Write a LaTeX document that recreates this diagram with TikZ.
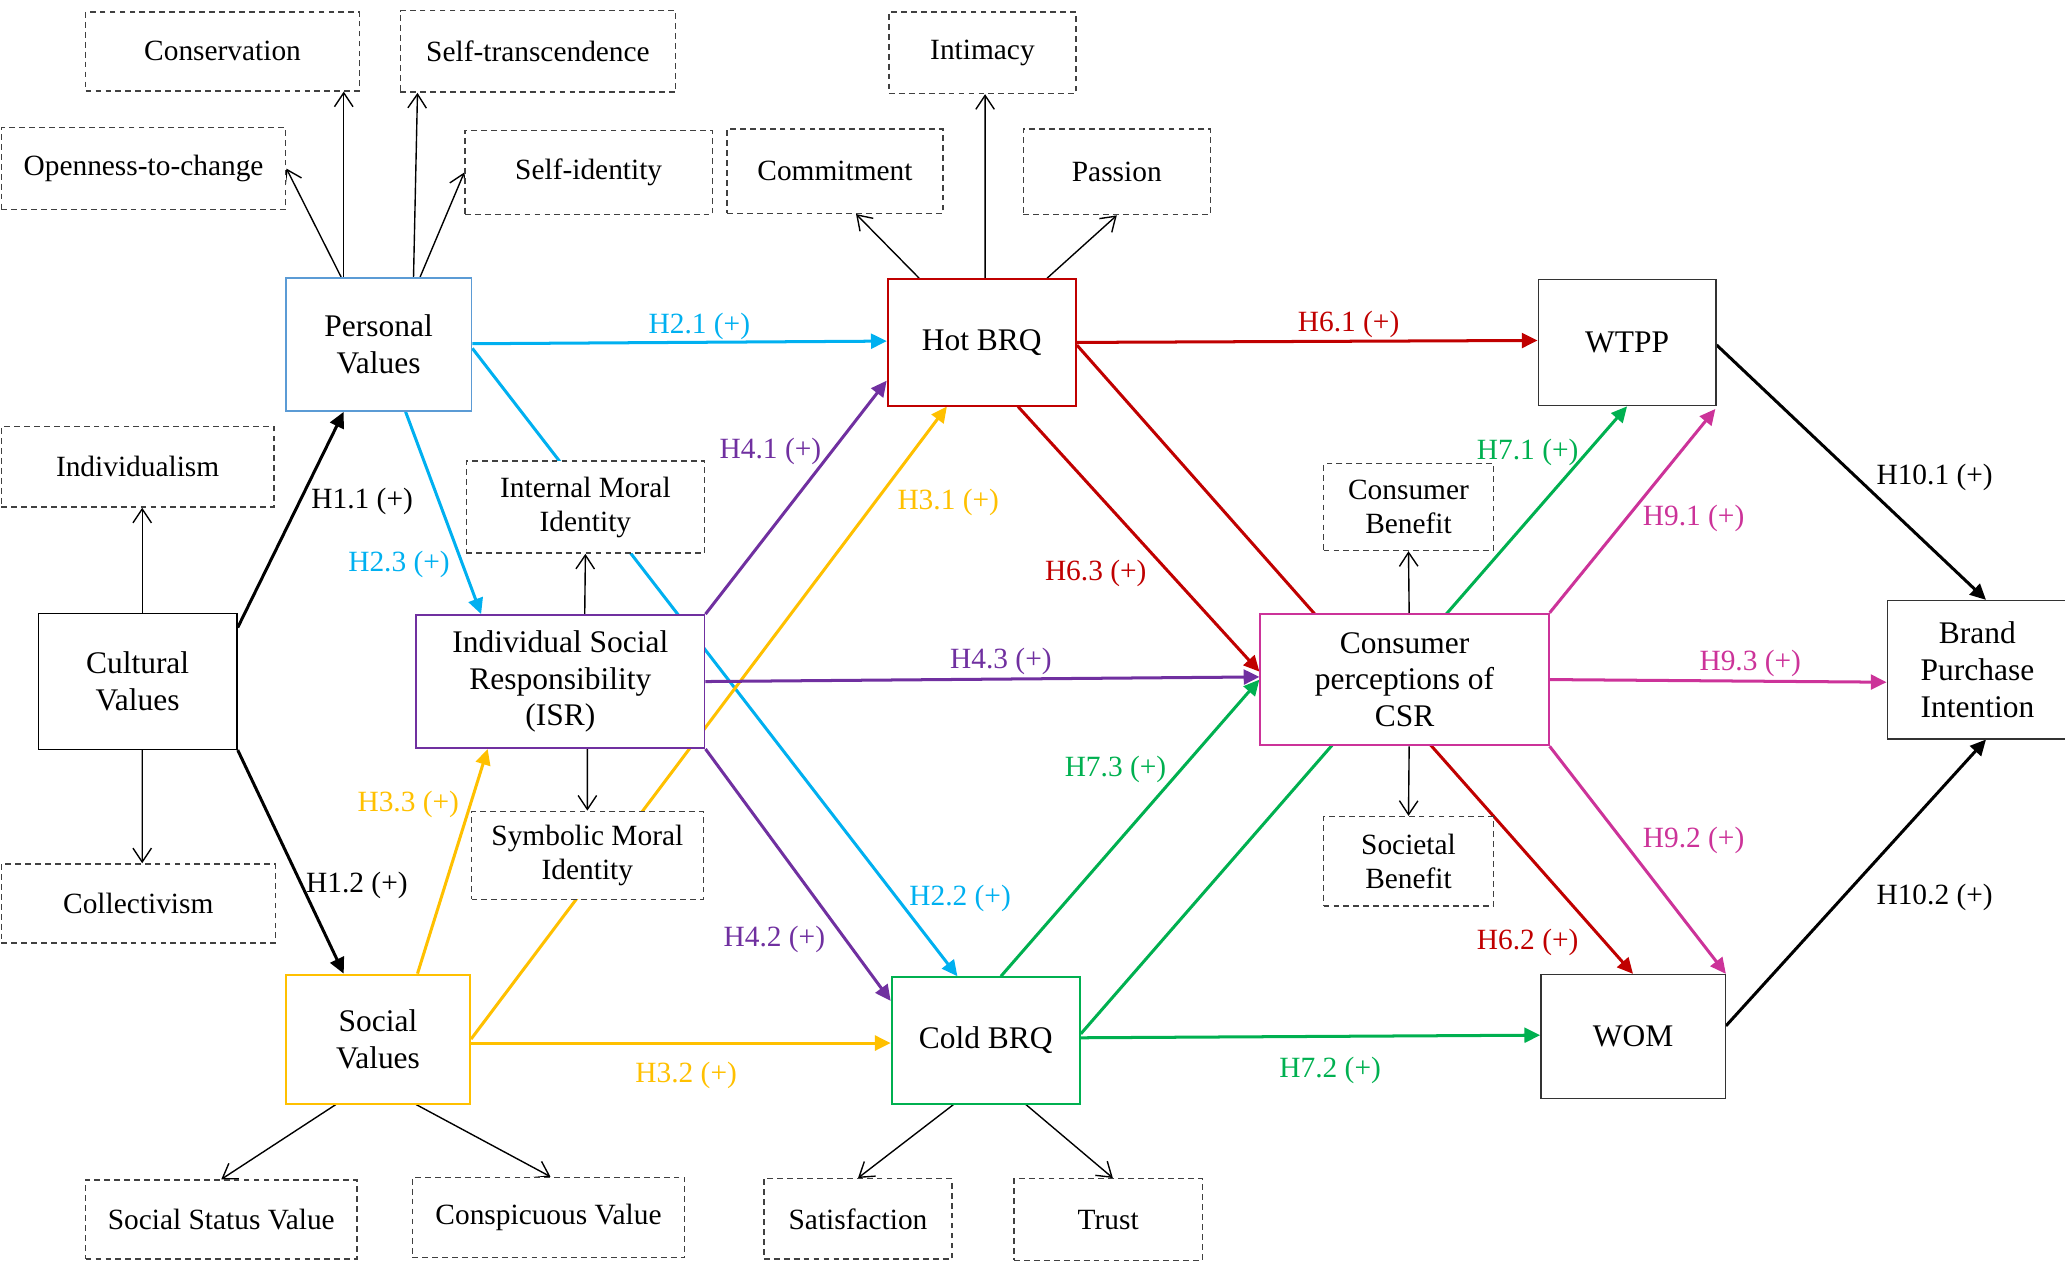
\documentclass[tikz,border=0pt]{standalone}
\usepackage{fontspec}
\setmainfont{Liberation Serif}
\usetikzlibrary{arrows.meta,calc}
\pgfdeclarelayer{bg}
\pgfsetlayers{bg,main}
\definecolor{cblue}{HTML}{00B0F0}
\definecolor{pvblue}{HTML}{5B9BD5}
\definecolor{cyel}{HTML}{FFC000}
\definecolor{cpur}{HTML}{7030A0}
\definecolor{cred}{HTML}{C00000}
\definecolor{cgrn}{HTML}{00B050}
\definecolor{cmag}{HTML}{CC3399}
\newcommand\mainfs{\fontsize{13.6}{15.9}\selectfont}
\newcommand\subfs{\fontsize{12.7}{14.7}\selectfont}
\begin{document}
\begin{tikzpicture}[x=0.02cm,y=-0.02cm,
  mainbox/.style={draw, fill=white, line width=0.8pt, inner sep=0pt, align=center, font=\mainfs},
  subbox/.style={draw=black!75, dash pattern=on 2.5pt off 1.8pt, line width=0.6pt, fill=white, inner sep=0pt, align=center, font=\subfs},
  subarrow/.style={line width=0.6pt, -{Straight Barb[length=6pt,width=8pt]}},
  hyp/.style={line width=1.3pt, -{Triangle[length=6.8pt,width=6.4pt]}},
  lab/.style={font=\subfs, inner sep=0pt, yshift=-0.05cm}]
\useasboundingbox (0,0) rectangle (1568,958);

% main constructs
\node[mainbox, draw=pvblue, minimum width=2.82cm, minimum height=2.02cm] (pv) at (287.5,261.5) {Personal\\Values};
\node[mainbox, draw=black, line width=0.6pt, minimum width=3.02cm, minimum height=2.06cm] (cv) at (104.5,517.5) {Cultural\\Values};
\node[mainbox, draw=cyel, minimum width=2.80cm, minimum height=1.96cm] (sv) at (287,789) {Social\\Values};
\node[mainbox, draw=cpur, minimum width=4.38cm, minimum height=2.02cm] (isr) at (425.5,517.5) {Individual Social\\Responsibility\\(ISR)};
\node[mainbox, draw=cred, minimum width=2.86cm, minimum height=1.92cm] (hot) at (745.5,260) {Hot BRQ};
\node[mainbox, draw=cgrn, minimum width=2.86cm, minimum height=1.92cm] (cold) at (748.5,790) {Cold BRQ};
\node[mainbox, draw=cmag, minimum width=4.38cm, minimum height=2.00cm] (csr) at (1066.5,516) {Consumer\\perceptions of\\CSR};
\node[mainbox, draw=black!80, line width=0.6pt, minimum width=2.70cm, minimum height=1.92cm] (wtpp) at (1235.5,260) {WTPP};
\node[mainbox, draw=black!80, line width=0.6pt, minimum width=2.80cm, minimum height=1.88cm] (wom) at (1240,787) {WOM};
\node[mainbox, draw=black!80, line width=0.6pt, minimum width=2.74cm, minimum height=2.10cm] (bpi) at (1501.5,508.5) {Brand\\Purchase\\Intention};

% dimensions
\node[subbox, minimum width=4.16cm, minimum height=1.20cm] (cons) at (169,39) {Conservation};
\node[subbox, minimum width=4.18cm, minimum height=1.24cm] (st) at (408.5,39) {Self-transcendence};
\node[subbox, minimum width=4.32cm, minimum height=1.24cm] (open) at (109,128) {Openness-to-change};
\node[subbox, minimum width=3.76cm, minimum height=1.28cm] (si) at (447,131) {Self-identity};
\node[subbox, minimum width=2.84cm, minimum height=1.24cm] (int) at (746,40) {Intimacy};
\node[subbox, minimum width=3.28cm, minimum height=1.28cm] (com) at (634,130) {Commitment};
\node[subbox, minimum width=2.84cm, minimum height=1.30cm] (pas) at (848,130.5) {Passion};
\node[subbox, minimum width=4.14cm, minimum height=1.22cm] (ind) at (104.5,354.5) {Individualism};
\node[subbox, minimum width=4.16cm, minimum height=1.20cm] (col) at (105,686) {Collectivism};
\node[subbox, minimum width=3.62cm, minimum height=1.40cm] (imi) at (444.5,385) {Internal Moral\\Identity};
\node[subbox, minimum width=3.52cm, minimum height=1.34cm] (smi) at (446,649.5) {Symbolic Moral\\Identity};
\node[subbox, minimum width=2.58cm, minimum height=1.32cm] (cb) at (1069.5,385) {Consumer\\Benefit};
\node[subbox, minimum width=2.58cm, minimum height=1.36cm] (sb) at (1069.5,654) {Societal\\Benefit};
\node[subbox, minimum width=4.12cm, minimum height=1.20cm] (ssv) at (168,926) {Social Status Value};
\node[subbox, minimum width=4.14cm, minimum height=1.22cm] (cnv) at (416.5,924.5) {Conspicuous Value};
\node[subbox, minimum width=2.86cm, minimum height=1.22cm] (sat) at (651.5,925.5) {Satisfaction};
\node[subbox, minimum width=2.86cm, minimum height=1.24cm] (tru) at (841.5,926) {Trust};

\begin{pgfonlayer}{bg}
% dimension arrows
\draw[subarrow] ($(pv.north)+(-28.5,0)$) -- (open.east);
\draw[subarrow] ($(pv.north)+(-26.5,0)$) -- ($(cons.south)+(92,0)$);
\draw[subarrow] ($(pv.north)+(26.5,0)$) -- ($(st.south)+(-91.5,0)$);
\draw[subarrow] ($(pv.north)+(31.5,0)$) -- (si.west);
\draw[subarrow] ($(hot.north)+(-47.5,0)$) -- ($(com.south)+(16,0)$);
\draw[subarrow] ($(hot.north)+(2.5,0)$) -- ($(int.south)+(2,0)$);
\draw[subarrow] ($(hot.north)+(49.5,0)$) -- (pas.south);
\draw[subarrow] ($(cv.north)+(3.5,0)$) -- ($(ind.south)+(3.5,0)$);
\draw[subarrow] ($(cv.south)+(3.5,0)$) -- ($(col.north)+(3,0)$);
\draw[subarrow] ($(isr.north)+(18.5,0)$) -- (imi.south);
\draw[subarrow] ($(isr.south)+(20.5,0)$) -- (smi.north);
\draw[subarrow] ($(csr.north)+(3.5,0)$) -- (cb.south);
\draw[subarrow] ($(csr.south)+(3.5,0)$) -- (sb.north);
\draw[subarrow] ($(sv.south)+(-32,0)$) -- (ssv.north);
\draw[subarrow] ($(sv.south)+(29,0)$) -- ($(cnv.north)+(1.5,0)$);
\draw[subarrow] ($(cold.south)+(-24.5,0)$) -- (sat.north);
\draw[subarrow] ($(cold.south)+(30.5,0)$) -- ($(tru.north)+(3.5,0)$);

% hypotheses
\draw[hyp, black] ($(cv.north east)+(0,11)$) -- ($(pv.south)+(-26.5,0)$);
\draw[hyp, black] (cv.south east) -- ($(sv.north)+(-26,0)$);
\draw[hyp, black] ($(wtpp.east)+(0,2)$) -- ($(bpi.north)+(6.5,0)$);
\draw[hyp, black] ($(wom.east)+(0,-8)$) -- ($(bpi.south)+(6.5,0)$);

\draw[hyp, cblue] ($(pv.east)+(0,-0.5)$) -- ($(hot.west)+(0,-1)$);
\draw[hyp, cblue] ($(pv.south)+(20.5,0)$) -- ($(isr.north west)+(50,0)$);
\draw[hyp, cblue] ($(pv.east)+(0,3)$) -- ($(cold.north)+(-21.5,0)$);

\draw[hyp, cyel] ($(sv.north)+(30,0)$) -- ($(isr.south west)+(55,0)$);
\draw[hyp, cyel] (sv.east) -- ($(hot.south)+(-26.5,0)$);
\draw[hyp, cyel] ($(sv.east)+(0,3)$) -- ($(cold.west)+(0,2)$);

\draw[hyp, cpur] (isr.north east) -- ($(hot.west)+(0,29)$);
\draw[hyp, cpur] (isr.east) -- ($(csr.west)+(0,-2)$);
\draw[hyp, cpur] (isr.south east) -- ($(cold.west)+(0,-30)$);

\draw[hyp, cred] (hot.east) -- ($(wtpp.west)+(0,-1.5)$);
\draw[hyp, cred] ($(hot.south)+(27.5,0)$) -- ($(csr.west)+(0,-6)$);
\draw[hyp, cred] ($(hot.east)+(0,2)$) -- (wom.north);

\draw[hyp, cgrn] ($(cold.east)+(0,-5)$) -- (wtpp.south);
\draw[hyp, cgrn] ($(cold.north)+(11.5,0)$) -- (csr.west);
\draw[hyp, cgrn] ($(cold.east)+(0,-2)$) -- ($(wom.west)+(0,-1)$);

\draw[hyp, cmag] (csr.north east) -- ($(wtpp.south east)+(-1,2)$);
\draw[hyp, cmag] (csr.east) -- ($(bpi.west)+(0,9.5)$);
\draw[hyp, cmag] (csr.south east) -- (wom.north east);
\end{pgfonlayer}

% labels
\node[lab] (l11) at (275,378) {H1.1 (+)};
\node[lab] (l12) at (271,670) {H1.2 (+)};
\node[lab] (l101) at (1469,360) {H10.1 (+)};
\node[lab] (l102) at (1469,679) {H10.2 (+)};
\node[lab, cblue] (l21) at (531,245) {H2.1 (+)};
\node[lab, cblue] (l23) at (303,426) {H2.3 (+)};
\node[lab, cblue] (l22) at (729,680) {H2.2 (+)};
\node[lab, cyel] (l33) at (310,608) {H3.3 (+)};
\node[lab, cyel] (l31) at (720,379) {H3.1 (+)};
\node[lab, cyel] (l32) at (521,814) {H3.2 (+)};
\node[lab, cpur] (l41) at (585,340) {H4.1 (+)};
\node[lab, cpur] (l43) at (760,500) {H4.3 (+)};
\node[lab, cpur] (l42) at (588,711) {H4.2 (+)};
\node[lab, cred] (l61) at (1024,244) {H6.1 (+)};
\node[lab, cred] (l63) at (832,433) {H6.3 (+)};
\node[lab, cred] (l62) at (1160,713) {H6.2 (+)};
\node[lab, cgrn] (l71) at (1160,341) {H7.1 (+)};
\node[lab, cgrn] (l73) at (847,582) {H7.3 (+)};
\node[lab, cgrn] (l72) at (1010,810) {H7.2 (+)};
\node[lab, cmag] (l91) at (1286,391) {H9.1 (+)};
\node[lab, cmag] (l93) at (1329,501) {H9.3 (+)};
\node[lab, cmag] (l92) at (1286,636) {H9.2 (+)};
\end{tikzpicture}
\end{document}
